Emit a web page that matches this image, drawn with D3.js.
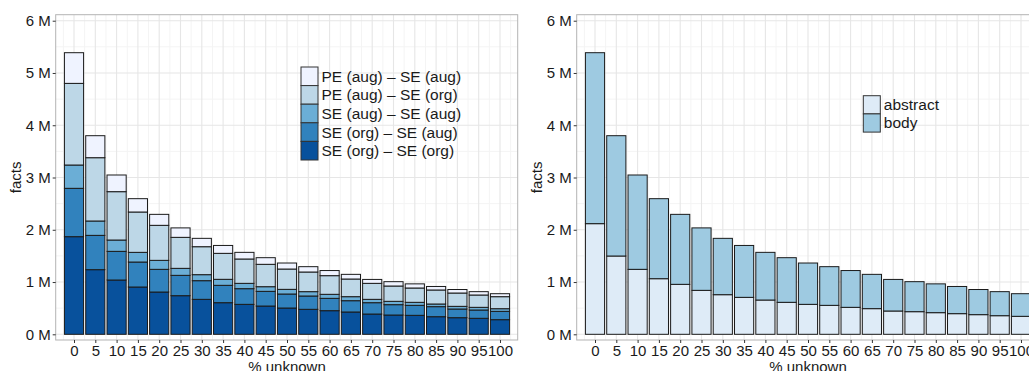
<!DOCTYPE html>
<html>
<head>
<meta charset="utf-8">
<script src="https://cdn.jsdelivr.net/npm/d3@7"></script>
<style>
  html, body { margin: 0; padding: 0; background: #fff; }
  svg { display: block; }
</style>
</head>
<body>
<svg id="chart" width="1029" height="371" font-family="Liberation Sans, Arial, Helvetica, sans-serif"></svg>
<script>
// % of unknown entities per bucket
const unknownPct = [0, 5, 10, 15, 20, 25, 30, 35, 40, 45, 50, 55, 60, 65, 70, 75, 80, 85, 90, 95, 100];

// Facts per extraction pattern, in millions (stacked bottom to top)
const seOrgSeOrg = [1.868, 1.237, 1.039, 0.905, 0.809, 0.739, 0.669, 0.605, 0.573, 0.541, 0.503, 0.478, 0.452, 0.427, 0.388, 0.369, 0.363, 0.337, 0.318, 0.306, 0.280];
const seOrgSeAug = [0.925, 0.656, 0.548, 0.478, 0.434, 0.389, 0.357, 0.332, 0.300, 0.281, 0.268, 0.255, 0.236, 0.216, 0.217, 0.198, 0.191, 0.192, 0.166, 0.159, 0.159];
const seAugSeAug = [0.446, 0.275, 0.217, 0.185, 0.172, 0.134, 0.115, 0.115, 0.102, 0.089, 0.089, 0.083, 0.077, 0.077, 0.064, 0.064, 0.058, 0.051, 0.051, 0.051, 0.051];
const peAugSeOrg = [1.562, 1.211, 0.925, 0.772, 0.670, 0.593, 0.535, 0.497, 0.466, 0.428, 0.389, 0.376, 0.357, 0.338, 0.306, 0.293, 0.274, 0.268, 0.255, 0.236, 0.230];
const peAugSeAug = [0.587, 0.421, 0.319, 0.255, 0.210, 0.181, 0.160, 0.151, 0.127, 0.127, 0.115, 0.102, 0.098, 0.089, 0.075, 0.083, 0.079, 0.067, 0.067, 0.064, 0.057];

// Facts per document section, in millions
const abstractFacts = [2.117, 1.498, 1.243, 1.064, 0.956, 0.841, 0.758, 0.707, 0.656, 0.612, 0.573, 0.554, 0.516, 0.491, 0.446, 0.433, 0.414, 0.395, 0.376, 0.356, 0.344];
const bodyFacts = [3.271, 2.302, 1.805, 1.531, 1.339, 1.195, 1.078, 0.993, 0.912, 0.854, 0.791, 0.740, 0.704, 0.656, 0.604, 0.574, 0.551, 0.520, 0.481, 0.460, 0.433];

const yTickValues = [0, 1, 2, 3, 4, 5, 6];
const yTickLabels = ["0 M", "1 M", "2 M", "3 M", "4 M", "5 M", "6 M"];

const patternLabels = ["SE (org) \u2013 SE (org)", "SE (org) \u2013 SE (aug)", "SE (aug) \u2013 SE (aug)", "PE (aug) \u2013 SE (org)", "PE (aug) \u2013 SE (aug)"];
const patternColors = ["#08519c", "#3182bd", "#6baed6", "#bdd7e7", "#eff3ff"];
const sectionLabels = ["abstract", "body"];
const sectionColors = ["#deebf7", "#9ecae1"];

const svg = d3.select("#chart");
const FAMILY = "Liberation Sans, Arial, Helvetica, sans-serif";
const FONT = 15;
const LEGEND_FONT = 15.5;
const TEXT = "#1a1a1a";

function drawPanel(opts) {
  const { left, top, width, height, series, labels, colors, legend } = opts;
  const g = svg.append("g");

  const x = d3.scaleLinear().domain([-4.296, 104.155]).range([left, left + width]);
  const y = d3.scaleLinear().domain([-0.109, 6.115]).range([top + height, top]);

  // grid: minor then major
  const xMinor = d3.range(-2.5, 105, 5);
  const yMinor = d3.range(0.5, 6, 1);
  g.append("g").selectAll("line").data(xMinor).join("line")
    .attr("x1", d => x(d)).attr("x2", d => x(d))
    .attr("y1", top).attr("y2", top + height)
    .attr("stroke", "#f4f4f4").attr("stroke-width", 1);
  g.append("g").selectAll("line").data(yMinor).join("line")
    .attr("y1", d => y(d)).attr("y2", d => y(d))
    .attr("x1", left).attr("x2", left + width)
    .attr("stroke", "#f4f4f4").attr("stroke-width", 1);
  g.append("g").selectAll("line").data(unknownPct).join("line")
    .attr("x1", d => x(d)).attr("x2", d => x(d))
    .attr("y1", top).attr("y2", top + height)
    .attr("stroke", "#e6e6e6").attr("stroke-width", 1.1);
  g.append("g").selectAll("line").data(yTickValues).join("line")
    .attr("y1", d => y(d)).attr("y2", d => y(d))
    .attr("x1", left).attr("x2", left + width)
    .attr("stroke", "#e6e6e6").attr("stroke-width", 1.1);

  // stacked bars
  const rows = unknownPct.map((p, i) => {
    const r = { pct: p };
    series.forEach((s, k) => { r["k" + k] = s[i]; });
    return r;
  });
  const keys = series.map((s, k) => "k" + k);
  const stacked = d3.stack().keys(keys)(rows);
  const barW = x(4.5) - x(0);

  stacked.forEach((layer, k) => {
    g.append("g").selectAll("rect").data(layer).join("rect")
      .attr("x", d => x(d.data.pct) - barW / 2)
      .attr("width", barW)
      .attr("y", d => y(d[1]))
      .attr("height", d => y(d[0]) - y(d[1]))
      .attr("fill", colors[k])
      .attr("stroke", "#1a1a1a")
      .attr("stroke-width", 1);
  });

  // panel border
  g.append("rect")
    .attr("x", left).attr("y", top).attr("width", width).attr("height", height)
    .attr("fill", "none").attr("stroke", "#b3b3b3").attr("stroke-width", 1);

  // y axis
  const yAxis = d3.axisLeft(y).tickValues(yTickValues)
    .tickFormat((d, i) => yTickLabels[i]).tickSize(3).tickPadding(2);
  const ya = g.append("g").attr("transform", `translate(${left},0)`).call(yAxis)
    .attr("font-family", FAMILY).attr("font-size", FONT);
  ya.select(".domain").remove();
  ya.selectAll(".tick line").attr("stroke", "#333");
  ya.selectAll(".tick text").attr("fill", TEXT);

  // x axis
  const xAxis = d3.axisBottom(x).tickValues(unknownPct).tickSize(3).tickPadding(2);
  const xa = g.append("g").attr("transform", `translate(0,${top + height})`).call(xAxis)
    .attr("font-family", FAMILY).attr("font-size", FONT);
  xa.select(".domain").remove();
  xa.selectAll(".tick line").attr("stroke", "#333");
  xa.selectAll(".tick text").attr("fill", TEXT);

  // axis titles
  g.append("text")
    .attr("transform", `translate(${left - 40},${top + height / 2}) rotate(-90)`)
    .attr("text-anchor", "middle").attr("dominant-baseline", "central")
    .attr("font-family", FAMILY).attr("font-size", FONT).attr("fill", TEXT).text("facts");
  g.append("text")
    .attr("x", x(50)).attr("y", top + height + 32)
    .attr("text-anchor", "middle")
    .attr("font-family", FAMILY).attr("font-size", FONT).attr("fill", TEXT).text("% unknown");

  // legend
  const lg = g.append("g").attr("transform", `translate(${legend.x},${legend.y})`);
  legend.order.forEach((k, row) => {
    lg.append("rect")
      .attr("x", 0).attr("y", row * legend.row)
      .attr("width", 17).attr("height", legend.row)
      .attr("fill", colors[k]).attr("stroke", "#333").attr("stroke-width", 1);
    lg.append("text")
      .attr("x", 20.5).attr("y", row * legend.row + legend.row / 2)
      .attr("dominant-baseline", "central")
      .attr("font-family", FAMILY).attr("font-size", LEGEND_FONT).attr("fill", TEXT)
      .text(labels[k]);
  });
}

drawPanel({
  left: 55.7, top: 14.7, width: 462, height: 325.3,
  series: [seOrgSeOrg, seOrgSeAug, seAugSeAug, peAugSeOrg, peAugSeAug],
  labels: patternLabels, colors: patternColors,
  legend: { x: 301, y: 67, row: 18.6, order: [4, 3, 2, 1, 0] }
});

drawPanel({
  left: 576.7, top: 14.7, width: 462, height: 325.3,
  series: [abstractFacts, bodyFacts],
  labels: sectionLabels, colors: sectionColors,
  legend: { x: 863.3, y: 95.7, row: 18.2, order: [0, 1] }
});
</script>
</body>
</html>
